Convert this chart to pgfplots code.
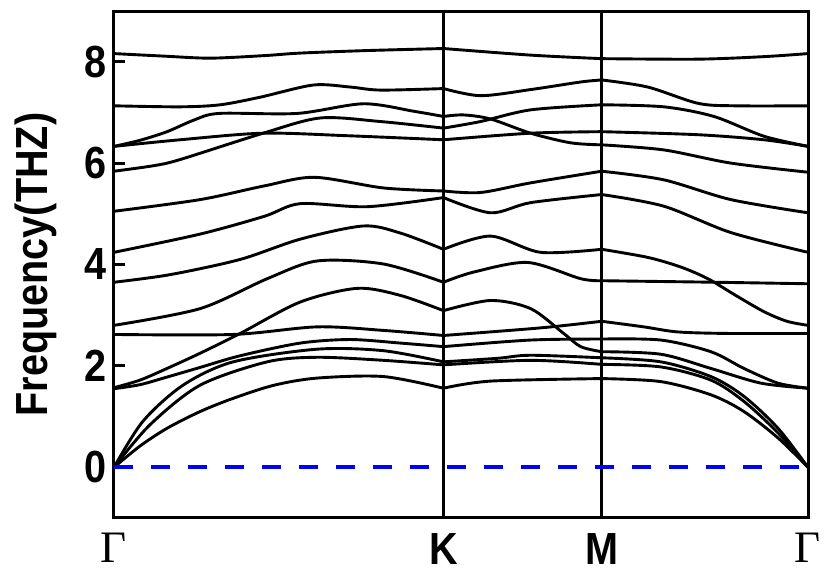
\documentclass[border=0pt]{standalone}
\usepackage{fontspec}
\setmainfont{Liberation Sans}[FakeStretch=0.88]
\newfontfamily\greekfont{Liberation Serif}
\usepackage{pgfplots}
\pgfplotsset{compat=1.18}
\pgfplotsset{band/.style={black, line width=1.45pt, smooth, mark=none}}
\newcommand{\G}{{\greekfont\mdseries Γ}}

\begin{document}
\begin{tikzpicture}
\begin{axis}[
    name=ax,
    scale only axis,
    width=347pt, height=253.5pt,
    xmin=0, xmax=693, ymin=-1, ymax=9,
    axis line style={line width=1.5pt},
    xtick={0,329,487,693},
    xticklabels={\G,K,M,\G},
    xtick style={draw=none},
    xticklabel style={yshift=-4pt},
    ytick={0,2,4,6,8},
    ytick pos=left,
    tick align=inside,
    major tick length=5.5pt,
    ytick style={line width=1.5pt, black},
    tick label style={font=\fontsize{22.5}{27}\selectfont\bfseries},
    /pgf/number format/assume math mode=true,
    ylabel={Frequency(THZ)},
    ylabel style={font=\fontsize{22.5}{27}\selectfont\bfseries,
        at={(axis description cs:-0.0965,0.5)}, anchor=base},
    unbounded coords=jump,
]
% high-symmetry lines
\addplot[black, line width=1.5pt] coordinates {(329,-1) (329,9)};
\addplot[black, line width=1.5pt] coordinates {(487,-1) (487,9)};

% bands: Gamma-K | K-M | M-Gamma
\addplot[band] coordinates {
    (0,8.16)(50,8.11)(96,8.07)(150,8.12)(186,8.17)(253,8.22)(329,8.26) (329,nan)
    (329,8.26)(416,8.13)(487,8.06) (487,nan)
    (487,8.06)(583,8.05)(649,8.1)(693,8.16)};
\addplot[band] coordinates {
    (0,7.13)(66,7.11)(106,7.15)(146,7.3)(199,7.54)(236,7.5)(266,7.44)(329,7.47) (329,nan)
    (329,7.47)(366,7.33)(416,7.45)(466,7.6)(487,7.64) (487,nan)
    (487,7.64)(533,7.5)(583,7.18)(620,7.13)(693,7.13)};
\addplot[band] coordinates {
    (0,6.33)(26,6.45)(53,6.62)(80,6.85)(105,6.98)(183,6.98)(249,7.17)(300,7.02)(329,6.92) (329,nan)
    (329,6.92)(349,6.95)(376,6.87)(416,6.59)(456,6.4)(487,6.36) (487,nan)
    (487,6.36)(549,6.26)(616,6.0)(693,5.82)};
\addplot[band] coordinates {
    (0,6.33)(66,6.46)(149,6.59)(233,6.54)(329,6.46) (329,nan)
    (329,6.46)(416,6.59)(487,6.62) (487,nan)
    (487,6.62)(583,6.56)(649,6.46)(693,6.33)};
\addplot[band] coordinates {
    (0,5.84)(40,5.95)(66,6.07)(149,6.59)(206,6.89)(266,6.82)(329,6.69) (329,nan)
    (329,6.69)(366,6.82)(416,7.05)(487,7.15) (487,nan)
    (487,7.15)(549,7.11)(599,6.92)(649,6.53)(693,6.33)};
\addplot[band] coordinates {
    (0,5.05)(86,5.28)(150,5.55)(200,5.72)(269,5.51)(329,5.45) (329,nan)
    (329,5.45)(366,5.42)(416,5.61)(487,5.84) (487,nan)
    (487,5.84)(549,5.67)(616,5.28)(693,5.02)};
\addplot[band] coordinates {
    (0,4.24)(86,4.6)(150,4.95)(186,5.2)(253,5.14)(329,5.32) (329,nan)
    (329,5.32)(376,5.02)(416,5.22)(487,5.38) (487,nan)
    (487,5.38)(549,5.15)(616,4.63)(693,4.24)};
\addplot[band] coordinates {
    (0,3.65)(56,3.8)(126,4.1)(186,4.5)(249,4.76)(286,4.62)(329,4.3) (329,nan)
    (329,4.3)(376,4.56)(426,4.24)(487,4.3) (487,nan)
    (487,4.3)(533,4.14)(566,3.95)(593,3.72)(620,3.4)(649,3.07)(672,2.88)(693,2.8)};
\addplot[band] coordinates {
    (0,2.8)(86,3.13)(153,3.72)(203,4.07)(269,4.01)(329,3.65) (329,nan)
    (329,3.65)(359,3.85)(413,4.04)(466,3.72)(487,3.68) (487,nan)
    (487,3.68)(600,3.65)(693,3.62)};
\addplot[band] coordinates {
    (0,1.57)(26,1.72)(53,1.95)(86,2.25)(126,2.64)(186,3.26)(243,3.53)(286,3.39)(329,3.09) (329,nan)
    (329,3.09)(376,3.29)(416,3.13)(449,2.64)(466,2.38)(487,2.28) (487,nan)
    (487,2.28)(546,2.23)(596,1.95)(646,1.66)(693,1.56)};
\addplot[band] coordinates {
    (0,2.62)(119,2.62)(203,2.77)(269,2.7)(329,2.6) (329,nan)
    (329,2.6)(426,2.75)(487,2.88) (487,nan)
    (487,2.88)(529,2.77)(563,2.67)(613,2.64)(693,2.64)};
\addplot[band] coordinates {
    (0,1.55)(26,1.63)(53,1.78)(86,1.97)(126,2.2)(186,2.45)(236,2.52)(286,2.45)(329,2.38) (329,nan)
    (329,2.38)(416,2.51)(487,2.53) (487,nan)
    (487,2.53)(546,2.51)(596,2.28)(629,1.95)(663,1.66)(693,1.56)};
\addplot[band] coordinates {
    (0,0)(29,0.91)(69,1.62)(119,2.08)(203,2.33)(269,2.3)(329,2.08) (329,nan)
    (329,2.08)(383,2.15)(416,2.21)(487,2.16) (487,nan)
    (487,2.16)(546,2.08)(596,1.79)(629,1.4)(663,0.77)(693,0)};
\addplot[band] coordinates {
    (0,0)(36,0.84)(86,1.62)(153,2.08)(203,2.17)(269,2.11)(329,2.02) (329,nan)
    (329,2.02)(416,2.11)(487,2.03) (487,nan)
    (487,2.03)(546,1.98)(596,1.72)(629,1.3)(663,0.68)(693,0)};
\addplot[band] coordinates {
    (0,0)(26,0.42)(53,0.77)(86,1.1)(119,1.36)(160,1.62)(203,1.76)(269,1.79)(329,1.56) (329,nan)
    (329,1.56)(376,1.7)(487,1.75) (487,nan)
    (487,1.75)(546,1.69)(596,1.43)(629,1.1)(663,0.58)(693,0)};

% zero line
\addplot[blue, line width=2pt, dash pattern=on 9.5pt off 9pt] coordinates {(0,0) (693,0)};
\end{axis}
\pgfresetboundingbox
\path[use as bounding box] ([shift={(-57pt,-27pt)}]ax.south west) rectangle ([shift={(8pt,5.5pt)}]ax.north east);
\end{tikzpicture}
\end{document}
